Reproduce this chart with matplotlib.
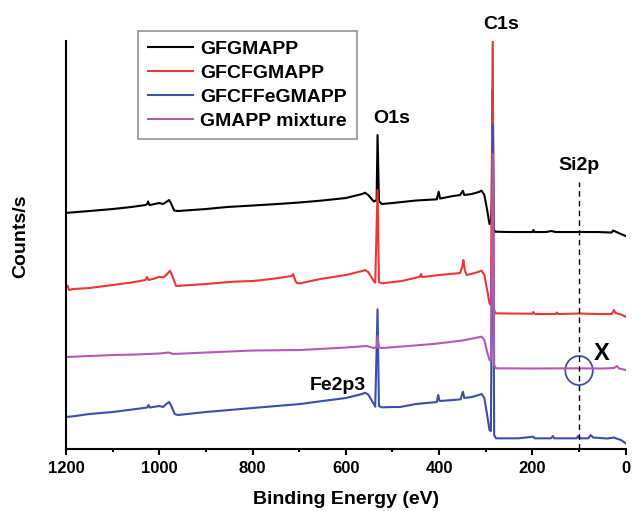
import matplotlib
matplotlib.use("Agg")
import matplotlib.pyplot as plt
from matplotlib.patches import Ellipse

plt.rcParams['font.family'] = ['Liberation Sans', 'DejaVu Sans']
plt.rcParams['font.weight'] = 'bold'

# ---------- data (binding energy in eV, intensity in arbitrary offset units) ----------
e_black = [1200, 1190, 1150, 1100, 1060, 1030, 1026, 1024, 1021, 1010, 1000, 992, 985, 979,
           975, 968, 960, 900, 855, 800, 747, 700, 655, 600, 565, 559, 552, 540, 534, 532,
           529, 523, 500, 450, 405, 401, 398, 370, 355, 349, 346, 330, 315, 309, 303, 297,
           292, 289, 287, 285, 283, 280, 250, 200, 198, 196, 170, 160, 150, 100, 60, 30, 27,
           22, 15, 5, 0]
i_black = [236, 236.5, 238, 240, 242, 244, 245, 247.5, 244, 245, 246, 245, 247, 249,
           246, 238.5, 238, 240, 242, 243.5, 245, 246.5, 248.3, 251, 255, 256.3, 254, 247.5, 249, 314,
           248, 245, 246, 248.5, 249.7, 257.3, 250.5, 253, 254, 258.3, 254, 255, 257, 258.3, 254, 239,
           225, 226, 249, 360, 220, 217.3, 217, 217, 219, 217, 217, 218, 217, 217, 217, 216.5, 218.5,
           217.5, 216, 214, 213]

e_red = [1200, 1197, 1193, 1185, 1150, 1100, 1060, 1030, 1026, 1023, 1010, 1000, 992, 985,
         977, 972, 964, 950, 900, 842, 800, 760, 726, 716, 713, 708, 705, 698, 655, 600,
         565, 559, 552, 540, 537, 532, 529, 523, 480, 441, 439, 436, 400, 355, 350, 348,
         345, 341, 320, 309, 303, 297, 292, 289, 285, 283, 280, 250, 200, 198, 195, 150,
         148, 145, 100, 60, 30, 25, 22, 10, 0]
i_red = [162.3, 163.5, 159, 160, 161, 164, 166.5, 169, 172, 169, 170.5, 172.3, 171.5, 174,
         178.3, 173, 163, 163.5, 165, 167.3, 168, 170, 172.3, 173, 175, 168, 166, 165.7, 170, 174,
         178, 179, 177, 168, 166.3, 259, 167, 165.7, 168, 172.3, 175, 172, 174, 176, 183, 189,
         179, 174, 176.5, 178.3, 174, 159, 145.7, 144, 419, 141, 135.7, 135.5, 135.3, 137, 135, 135,
         136.5, 135, 135.5, 135, 135, 139, 136, 134.5, 132.3]

e_blue = [1200, 1180, 1150, 1100, 1050, 1026, 1023, 1020, 1000, 992, 985, 979, 975, 967,
          960, 900, 800, 698, 650, 600, 565, 559, 552, 540, 537, 532, 529, 523, 500, 484,
          450, 405, 402, 399, 370, 354, 349, 346, 330, 315, 309, 303, 297, 292, 289, 285,
          282, 278, 230, 198, 195, 160, 156, 153, 105, 102, 99, 80, 75, 70, 40, 25, 20, 10, 0]
i_blue = [32, 33, 35, 37, 40, 41.5, 44, 41.5, 43, 42, 45, 47, 44, 35,
          34, 37, 41, 45, 48, 51, 55, 56.3, 54.5, 45, 42.3, 139.7, 43, 41.7, 42, 42,
          45, 47, 54, 48, 49, 49.7, 57.3, 51, 52, 54, 55, 51, 34, 19, 18, 324,
          14, 10.7, 10.7, 12.3, 10.7, 10.7, 13, 10.7, 10.7, 13, 10.7, 10.7, 14, 11.5, 10.5, 11.5, 10.5, 9, 5.7]

e_purple = [1200, 1150, 1100, 1050, 1000, 980, 970, 900, 800, 698, 600, 555, 540, 534, 532,
            529, 523, 480, 413, 350, 309, 303, 297, 292, 289, 285, 282, 278, 200, 100, 50,
            25, 19, 14, 0]
i_purple = [92, 93, 94, 94.5, 95.5, 96.5, 95, 96.5, 98.5, 99, 101.5, 103, 101, 102, 113,
            101.5, 101, 102.5, 105, 108.5, 112.3, 109, 97, 89, 88, 295, 84, 80.7, 80.5, 80.7, 80.5,
            81, 83, 80.5, 79]

labels = ['GFGMAPP', 'GFCFGMAPP', 'GFCFFeGMAPP', 'GMAPP mixture']
colors = ['#000000', '#ef3535', '#3b4fa8', '#b25ab2']

# ---------- figure ----------
fig = plt.figure(figsize=(6.32, 5.11), dpi=100)
ax = fig.add_axes([0.1044, 0.1213, 0.8856, 0.799])

series = [(e_black, i_black), (e_red, i_red), (e_blue, i_blue), (e_purple, i_purple)]
for (e, i), lab, col in zip(series, labels, colors):
    ax.plot(e, i, color=col, lw=1.5, label=lab)

ax.set_xlim(1200, 0)
ax.set_ylim(0, 408.3)

ax.spines['top'].set_visible(False)
ax.spines['right'].set_visible(False)
ax.spines['left'].set_linewidth(1.5)
ax.spines['bottom'].set_linewidth(1.5)

ax.set_xticks([1200, 1000, 800, 600, 400, 200, 0])
ax.set_xticks([1100, 900, 700, 500, 300, 100], minor=True)
ax.tick_params(axis='x', which='major', direction='out', length=4.5, width=1.5,
               labelsize=12, pad=4)
ax.tick_params(axis='x', which='minor', direction='out', length=2.5, width=1.5)
ax.set_yticks([])

ax.set_xlabel('Binding Energy (eV)', fontsize=14, fontweight='bold')
ax.xaxis.set_label_coords(0.5, -0.103)
ax.set_ylabel('Counts/s', fontsize=14, fontweight='bold')
ax.yaxis.set_label_coords(-0.066, 0.52)

# peak labels
ax.text(502, 331, 'O1s', fontsize=14, ha='center', va='center')
ax.text(266, 425, 'C1s', fontsize=14, ha='center', va='center', clip_on=False)
ax.text(100, 284, 'Si2p', fontsize=14, ha='center', va='center')
ax.text(617, 64, 'Fe2p3', fontsize=14, ha='center', va='center')
ax.text(52, 96, 'X', fontsize=17, ha='center', va='center')
ax.plot([100, 100], [0, 267], color='black', lw=1, ls=(0, (4, 3)))
ax.add_patch(Ellipse((100, 78.5), 59, 29, fill=False, ec='#3b4fa8', lw=1.3))

leg = ax.legend(loc='upper left', bbox_to_anchor=(0.1286, 1.0245), borderaxespad=0,
                fontsize=14, frameon=True, fancybox=False, handlelength=2.35,
                handletextpad=0.35, labelspacing=0.32, borderpad=0.5)
leg.get_frame().set_edgecolor('#777777')
leg.get_frame().set_linewidth(1.2)

fig.savefig('out.png', dpi=100)
